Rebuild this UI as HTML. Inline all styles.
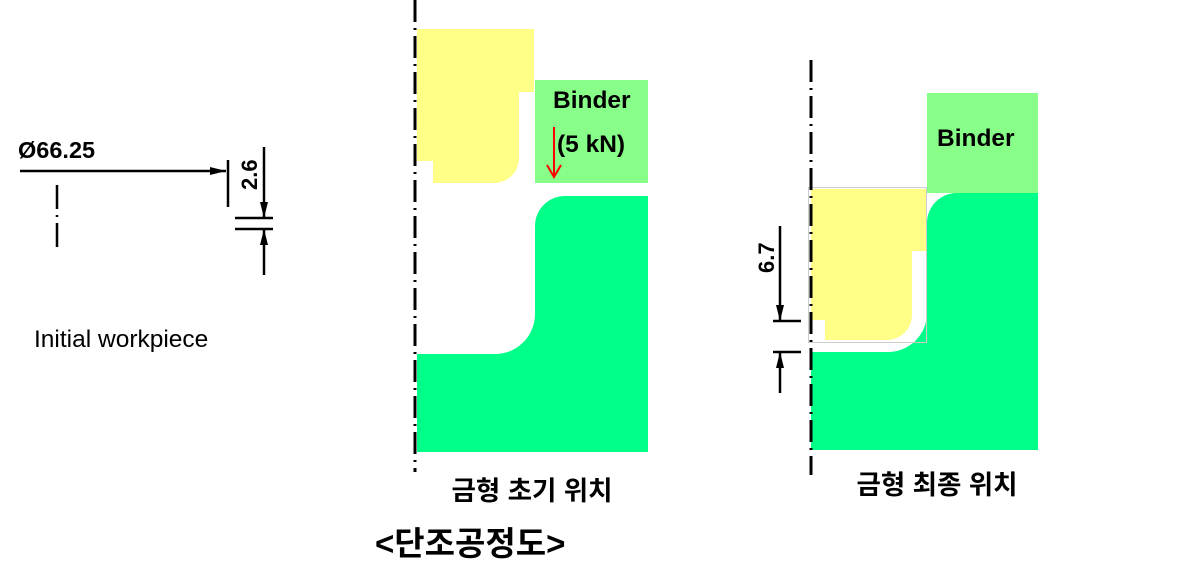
<!DOCTYPE html>
<html><head><meta charset="utf-8"><style>
html,body{margin:0;padding:0;background:#fff;}
svg{display:block;}
text{font-family:"Liberation Sans","Noto Sans CJK KR",sans-serif;}
</style></head><body>
<svg width="1199" height="579" viewBox="0 0 1199 579" xmlns="http://www.w3.org/2000/svg">
<defs>
<marker id="ahb" markerWidth="16" markerHeight="8" refX="16" refY="4" orient="auto" markerUnits="userSpaceOnUse"><path d="M0,0 L16,4 L0,8 z" fill="#000"/></marker>
</defs>

<!-- LEFT -->
<text x="18" y="158" font-size="23.5" font-weight="bold">Ø66.25</text>
<line x1="20" y1="171" x2="226" y2="171" stroke="#000" stroke-width="2.5" marker-end="url(#ahb)"/>
<line x1="228" y1="160" x2="228" y2="207" stroke="#000" stroke-width="2.5"/>
<line x1="57" y1="185" x2="57" y2="253" stroke="#000" stroke-width="2.5" stroke-dasharray="24,6,2,6"/>
<line x1="264" y1="147" x2="264" y2="218" stroke="#000" stroke-width="2.5" marker-end="url(#ahb)"/>
<line x1="264" y1="275" x2="264" y2="229" stroke="#000" stroke-width="2.5" marker-end="url(#ahb)"/>
<line x1="235" y1="218" x2="273" y2="218" stroke="#000" stroke-width="2.5"/>
<line x1="235" y1="229" x2="273" y2="229" stroke="#000" stroke-width="2.5"/>
<text transform="translate(257,190) rotate(-90)" font-size="22" font-weight="bold">2.6</text>
<text x="34" y="347" font-size="24.5">Initial workpiece</text>

<!-- MIDDLE -->
<path d="M417,29 H534 V92 H519 V158 A25,25 0 0 1 494,183 H433 V161 H417 Z" fill="#ffff88"/>
<rect x="535" y="80" width="113" height="103" fill="#88ff88"/>
<path d="M535,226 A30,30 0 0 1 565,196 H648 V452 H417 V354 H495 A40,40 0 0 0 535,314 Z" fill="#00ff88"/>
<line x1="415" y1="0" x2="415" y2="472" stroke="#000" stroke-width="3" stroke-dasharray="22,6,2,6"/>
<text x="553" y="108" font-size="24.5" font-weight="bold">Binder</text>
<text x="557" y="152" font-size="24.5" font-weight="bold">(5 kN)</text>
<line x1="554" y1="127" x2="554" y2="175" stroke="#f00" stroke-width="2"/>
<path d="M547,165 L554,177 L561,165" stroke="#f00" stroke-width="2" fill="none"/>
<text x="532" y="500" font-size="26.5" font-weight="bold" text-anchor="middle">금형 초기 위치</text>

<!-- RIGHT -->
<rect x="927" y="93" width="111" height="100" fill="#88ff88"/>
<path d="M927,223 A30,30 0 0 1 957,193 H1038 V450 H811 V352 H888 A39,39 0 0 0 927,313 Z" fill="#00ff88"/>
<rect x="808.5" y="187.5" width="118" height="155" fill="none" stroke="#ccc" stroke-width="1"/>
<path d="M811,189 H926 V251 H912 V315 A25,25 0 0 1 887,340 H825 V320 H811 Z" fill="#ffff88"/>
<line x1="811" y1="60" x2="811" y2="475" stroke="#000" stroke-width="3" stroke-dasharray="22,6,2,6"/>
<text x="937" y="146" font-size="24.5" font-weight="bold">Binder</text>
<line x1="780" y1="226" x2="780" y2="321" stroke="#000" stroke-width="2.5" marker-end="url(#ahb)"/>
<line x1="780" y1="393" x2="780" y2="352" stroke="#000" stroke-width="2.5" marker-end="url(#ahb)"/>
<line x1="773" y1="321" x2="801" y2="321" stroke="#000" stroke-width="2.5"/>
<line x1="773" y1="352" x2="801" y2="352" stroke="#000" stroke-width="2.5"/>
<text transform="translate(774,273) rotate(-90)" font-size="22" font-weight="bold">6.7</text>
<text x="937" y="494" font-size="26.5" font-weight="bold" text-anchor="middle">금형 최종 위치</text>

<text x="375" y="555" font-size="33" font-weight="bold">&lt;단조공정도&gt;</text>
</svg>
</body></html>
